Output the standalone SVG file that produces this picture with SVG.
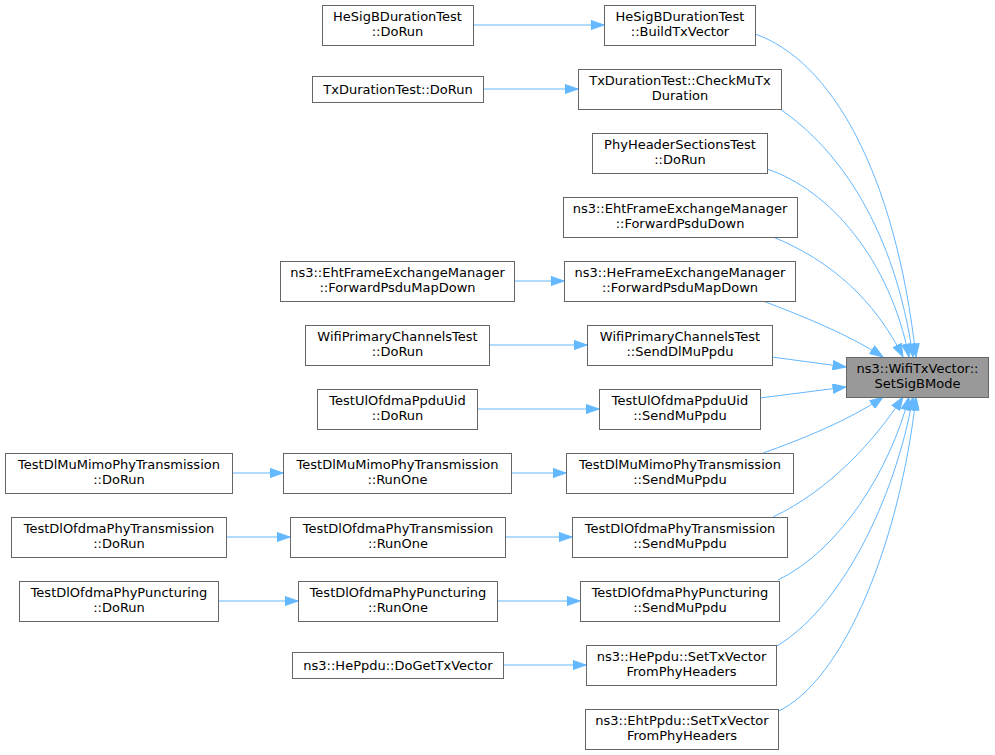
<svg xmlns="http://www.w3.org/2000/svg" width="995" height="755" viewBox="0 0 995 755">
<style>
.node rect{fill:#ffffff;stroke:#666666;stroke-width:1}
.target rect{fill:#999999;stroke:#666666;stroke-width:1}
text{font-family:"DejaVu Sans","Liberation Sans",sans-serif;font-size:13px;text-anchor:middle;fill:#000000}
.edges path{fill:none;stroke:#63b8ff;stroke-width:1;marker-end:url(#arr)}
</style>
<defs>
<marker id="arr" viewBox="0 0 14 10" refX="13.5" refY="5" markerWidth="14" markerHeight="10" markerUnits="userSpaceOnUse" orient="auto">
<path d="M0.5,0.4 L13.5,5 L0.5,9.6 Z" fill="#63b8ff" stroke="#63b8ff" stroke-width="1"/>
</marker>
</defs>
<rect width="995" height="755" fill="#ffffff"/>
<g id="edges" class="edges">
<path d="M473,25 L604,25"/>
<path d="M483,89 L578,89"/>
<path d="M514,281 L564,281"/>
<path d="M489,345 L587,345"/>
<path d="M477,409 L599,409"/>
<path d="M232,473 L283,473"/>
<path d="M511,473 L566,473"/>
<path d="M226,537 L290,537"/>
<path d="M505,537 L572,537"/>
<path d="M218,601 L298,601"/>
<path d="M497,601 L580,601"/>
<path d="M503,665 L586,665"/>
<path d="M755,34 C830,60 895,170 916,357"/>
<path d="M780,109 C840,150 895,230 913,357"/>
<path d="M767,169 C830,190 890,260 909,357"/>
<path d="M773,237 C830,260 875,300 903,357"/>
<path d="M763,301 C800,315 850,335 883,357"/>
<path d="M772,357 L846,367"/>
<path d="M760,398 L846,387"/>
<path d="M763,453 C800,440 850,420 883,397"/>
<path d="M773,517 C830,490 875,440 903,397"/>
<path d="M778,580 C840,550 890,470 909,397"/>
<path d="M775,647 C840,610 895,500 913,397"/>
<path d="M777,712 C845,680 900,540 916,397"/>
</g>
<g id="n1" class="node"><rect x="322.5" y="5.5" width="151" height="40"/><text x="397.5" y="21">HeSigBDurationTest</text><text x="397.5" y="36">::DoRun</text></g>
<g id="n2" class="node"><rect x="604.5" y="5.5" width="151" height="40"/><text x="680" y="21">HeSigBDurationTest</text><text x="680" y="36">::BuildTxVector</text></g>
<g id="n3" class="node"><rect x="312.5" y="76.5" width="171" height="26"/><text x="398" y="93.5">TxDurationTest::DoRun</text></g>
<g id="n4" class="node"><rect x="578.5" y="69.5" width="203" height="40"/><text x="680" y="85">TxDurationTest::CheckMuTx</text><text x="680" y="100">Duration</text></g>
<g id="n5" class="node"><rect x="592.5" y="133.5" width="175" height="40"/><text x="680" y="149">PhyHeaderSectionsTest</text><text x="680" y="164">::DoRun</text></g>
<g id="n6" class="node"><rect x="563.5" y="197.5" width="234" height="40"/><text x="680" y="213">ns3::EhtFrameExchangeManager</text><text x="680" y="228">::ForwardPsduDown</text></g>
<g id="n7" class="node"><rect x="280.5" y="261.5" width="234" height="40"/><text x="397.5" y="277">ns3::EhtFrameExchangeManager</text><text x="397.5" y="292">::ForwardPsduMapDown</text></g>
<g id="n8" class="node"><rect x="564.5" y="261.5" width="231" height="40"/><text x="680" y="277">ns3::HeFrameExchangeManager</text><text x="680" y="292">::ForwardPsduMapDown</text></g>
<g id="n9" class="node"><rect x="305.5" y="325.5" width="184" height="40"/><text x="397.5" y="341">WifiPrimaryChannelsTest</text><text x="397.5" y="356">::DoRun</text></g>
<g id="n10" class="node"><rect x="587.5" y="325.5" width="185" height="40"/><text x="680" y="341">WifiPrimaryChannelsTest</text><text x="680" y="356">::SendDlMuPpdu</text></g>
<g id="n11" class="node"><rect x="317.5" y="389.5" width="160" height="40"/><text x="397.5" y="405">TestUlOfdmaPpduUid</text><text x="397.5" y="420">::DoRun</text></g>
<g id="n12" class="node"><rect x="599.5" y="389.5" width="161" height="40"/><text x="680" y="405">TestUlOfdmaPpduUid</text><text x="680" y="420">::SendMuPpdu</text></g>
<g id="n13" class="target"><rect x="846.5" y="357.5" width="142" height="40"/><text x="917.5" y="373">ns3::WifiTxVector::</text><text x="917.5" y="388">SetSigBMode</text></g>
<g id="n14" class="node"><rect x="5.5" y="453.5" width="227" height="40"/><text x="119" y="469">TestDlMuMimoPhyTransmission</text><text x="119" y="484">::DoRun</text></g>
<g id="n15" class="node"><rect x="283.5" y="453.5" width="228" height="40"/><text x="397.5" y="469">TestDlMuMimoPhyTransmission</text><text x="397.5" y="484">::RunOne</text></g>
<g id="n16" class="node"><rect x="566.5" y="453.5" width="227" height="40"/><text x="680" y="469">TestDlMuMimoPhyTransmission</text><text x="680" y="484">::SendMuPpdu</text></g>
<g id="n17" class="node"><rect x="11.5" y="517.5" width="215" height="40"/><text x="119" y="533">TestDlOfdmaPhyTransmission</text><text x="119" y="548">::DoRun</text></g>
<g id="n18" class="node"><rect x="290.5" y="517.5" width="215" height="40"/><text x="398" y="533">TestDlOfdmaPhyTransmission</text><text x="398" y="548">::RunOne</text></g>
<g id="n19" class="node"><rect x="572.5" y="517.5" width="215" height="40"/><text x="680" y="533">TestDlOfdmaPhyTransmission</text><text x="680" y="548">::SendMuPpdu</text></g>
<g id="n20" class="node"><rect x="19.5" y="581.5" width="199" height="40"/><text x="119" y="597">TestDlOfdmaPhyPuncturing</text><text x="119" y="612">::DoRun</text></g>
<g id="n21" class="node"><rect x="298.5" y="581.5" width="199" height="40"/><text x="398" y="597">TestDlOfdmaPhyPuncturing</text><text x="398" y="612">::RunOne</text></g>
<g id="n22" class="node"><rect x="580.5" y="581.5" width="199" height="40"/><text x="680" y="597">TestDlOfdmaPhyPuncturing</text><text x="680" y="612">::SendMuPpdu</text></g>
<g id="n23" class="node"><rect x="292.5" y="652.5" width="211" height="26"/><text x="398" y="669.5">ns3::HePpdu::DoGetTxVector</text></g>
<g id="n24" class="node"><rect x="586.5" y="645.5" width="190" height="40"/><text x="681.5" y="661">ns3::HePpdu::SetTxVector</text><text x="681.5" y="676">FromPhyHeaders</text></g>
<g id="n25" class="node"><rect x="585.5" y="709.5" width="193" height="40"/><text x="682" y="725">ns3::EhtPpdu::SetTxVector</text><text x="682" y="740">FromPhyHeaders</text></g>
</svg>
